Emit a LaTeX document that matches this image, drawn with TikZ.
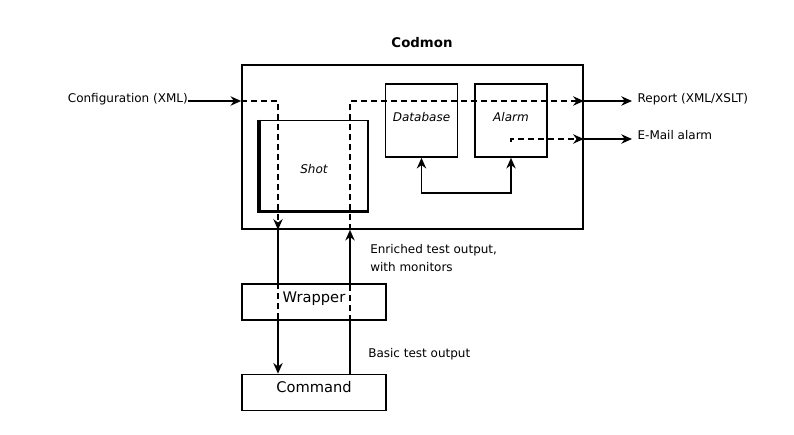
\documentclass[tikz,border=0pt]{standalone}
\usepackage{fontspec}
\setmainfont{DejaVu Sans}
\usetikzlibrary{arrows.meta}

\tikzset{
  box/.style={draw, line width=1.2pt, inner sep=0pt},
  bigbox/.style={box, minimum width=108pt, minimum height=27pt,
    text height=8pt, text depth=7.5pt, font=\fontsize{11}{13}\selectfont},
  smallbox/.style={box, minimum width=54pt, minimum height=54.75pt,
    text height=7pt, text depth=5.6pt, font=\fontsize{9}{11}\selectfont\itshape},
  txt/.style={inner sep=0pt, font=\fontsize{9}{13.5}\selectfont},
  plain/.style={line width=1.2pt},
  flow/.style={plain, -{Stealth[length=8pt,width=7pt]}},
  gap/.style={plain, dash pattern=on 4.5pt off 3pt},
  dflow/.style={flow, dash pattern=on 4.5pt off 3pt},
}

\begin{document}
\begin{tikzpicture}[x=0.75pt,y=-0.75pt]
    \useasboundingbox (0,0) rectangle (794,435);

    % boxes
    \node[txt, font=\fontsize{10}{12}\selectfont\bfseries] (title) at (422,43) {Codmon};
    \node[box, minimum width=255.75pt, minimum height=123pt] (codmon) at (412.5,147) {};
    \node[box, minimum width=81pt, minimum height=67.5pt, text height=13pt,
      text depth=0.4pt, font=\fontsize{9}{11}\selectfont\itshape] (shot) at (314,165.5) {Shot};
    \draw[line width=2.2pt] ([xshift=-0.5pt]shot.north west) |- ([yshift=-0.5pt]shot.south east);
    \node[smallbox] (database) at (421.5,120.5) {Database};
    \node[smallbox] (alarm) at (511,120.5) {Alarm};
    \node[bigbox] (wrapper) at (314,302) {Wrapper};
    \node[bigbox] (command) at (314,392.5) {Command};

    \coordinate (cfgin) at (188,101);
    \coordinate (dnturn) at (278,101);
    \coordinate (upturn) at (350,101);
    \coordinate (rptout) at (632,101);
    \coordinate (mailin) at (511,142);
    \coordinate (mailturn) at (511,139);
    \coordinate (mailout) at (632,139);
    \coordinate (dbalarm) at (466,193);

    % configuration going down
    \draw[flow] (cfgin) -- (cfgin -| codmon.west);
    \draw[dflow] (cfgin -| codmon.west) -- (dnturn) -- (dnturn |- codmon.south);
    \draw[plain] (dnturn |- codmon.south) -- (dnturn |- wrapper.north);
    \draw[gap] (dnturn |- wrapper.north) -- (dnturn |- wrapper.south);
    \draw[flow] (dnturn |- wrapper.south) -- (dnturn |- command.north);

    % test output going up
    \draw[plain] (upturn |- command.north) -- (upturn |- wrapper.south);
    \draw[gap] (upturn |- wrapper.south) -- (upturn |- wrapper.north);
    \draw[flow] (upturn |- wrapper.north) -- (upturn |- codmon.south);
    \draw[dflow] (upturn |- codmon.south) -- (upturn) -- (upturn -| codmon.east);
    \draw[flow] (upturn -| codmon.east) -- (rptout);

    % alarm
    \draw[dflow, line width=1.6pt] (mailin) -- (mailturn) -- (mailturn -| codmon.east);
    \draw[flow] (mailturn -| codmon.east) -- (mailout);
    \draw[plain, {Stealth[length=8pt,width=7pt]}-{Stealth[length=8pt,width=7pt]}]
        (database.south) |- (dbalarm) -| (alarm.south);

    % labels
    \node[txt, anchor=base east] (config) at ([yshift=-1.5pt]cfgin) {Configuration (XML)};
    \node[txt, anchor=base west] (report) at ([shift={(4pt,-1pt)}]rptout) {Report (XML/XSLT)};
    \node[txt, anchor=base west] (mail) at ([shift={(4pt,-0.5pt)}]mailout) {E-Mail alarm};
    \node[txt, anchor=north west, align=left] (enriched) at (370,244)
        {Enriched test output,\\with monitors};
    \node[txt, anchor=base west] (basic) at (368,357) {Basic test output};
\end{tikzpicture}
\end{document}
